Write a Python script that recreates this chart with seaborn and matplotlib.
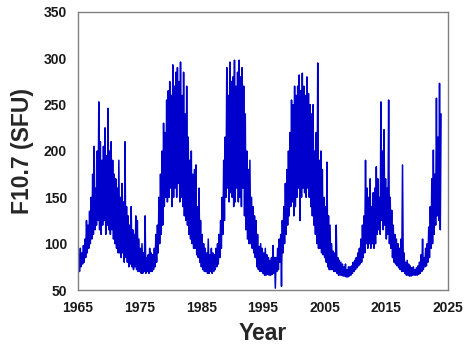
import numpy as np
import pandas as pd
import matplotlib
matplotlib.use("Agg")
import matplotlib.pyplot as plt
import seaborn as sns

# F10.7 solar radio flux (SFU): 8 samples per year
# (alternating low / high within each quarter), starting 1965.0
start_year = 1965.0
samples_per_year = 8
flux = [
    72, 88, 70, 95, 75, 90, 78, 98,          # 1965
    80, 105, 85, 125, 90, 120, 95, 135,      # 1966
    100, 150, 105, 175, 110, 205, 115, 160,  # 1967
    120, 200, 125, 253, 115, 210, 110, 190,  # 1968
    120, 205, 125, 225, 110, 195, 120, 246,  # 1969
    115, 200, 110, 210, 115, 190, 105, 175,  # 1970
    100, 170, 95, 160, 90, 190, 90, 150,     # 1971
    85, 165, 90, 145, 80, 210, 85, 140,      # 1972
    80, 130, 75, 120, 78, 140, 75, 115,      # 1973
    72, 110, 75, 130, 72, 125, 70, 105,      # 1974
    70, 95, 68, 100, 68, 90, 70, 130,        # 1975
    68, 85, 70, 88, 68, 95, 70, 90,          # 1976
    70, 88, 72, 95, 75, 110, 80, 120,        # 1977
    90, 150, 100, 175, 110, 200, 120, 230,   # 1978
    140, 220, 150, 255, 145, 265, 150, 275,  # 1979
    160, 260, 140, 293, 150, 270, 160, 285,  # 1980
    150, 290, 165, 275, 145, 296, 150, 260,  # 1981
    140, 285, 130, 240, 125, 270, 120, 215,  # 1982
    110, 190, 105, 200, 100, 175, 95, 180,   # 1983
    95, 185, 88, 140, 85, 160, 80, 125,      # 1984
    75, 110, 72, 100, 70, 95, 70, 90,        # 1985
    68, 105, 68, 88, 70, 95, 68, 90,         # 1986
    70, 88, 72, 95, 75, 100, 78, 110,        # 1987
    85, 125, 95, 150, 110, 190, 125, 215,    # 1988
    150, 290, 160, 260, 145, 296, 155, 275,  # 1989
    150, 280, 140, 298, 145, 270, 160, 285,  # 1990
    145, 298, 150, 280, 140, 290, 160, 270,  # 1991
    130, 240, 115, 200, 105, 180, 100, 190,  # 1992
    100, 150, 95, 140, 90, 130, 85, 125,     # 1993
    75, 110, 72, 97, 70, 100, 70, 95,        # 1994
    68, 90, 66, 95, 66, 88, 67, 85,          # 1995
    66, 82, 66, 85, 67, 98, 68, 85,          # 1996
    52, 85, 70, 95, 72, 105, 80, 110,        # 1997
    54, 125, 90, 140, 100, 165, 110, 180,    # 1998
    120, 200, 130, 220, 140, 255, 145, 250,  # 1999
    130, 270, 140, 260, 150, 270, 160, 282,  # 2000
    125, 265, 150, 284, 160, 270, 155, 260,  # 2001
    150, 280, 160, 262, 150, 250, 140, 240,  # 2002
    130, 250, 120, 200, 110, 220, 100, 295,  # 2003
    95, 190, 95, 200, 90, 180, 88, 150,      # 2004
    85, 140, 80, 188, 75, 130, 72, 120,      # 2005
    72, 100, 72, 92, 70, 90, 70, 120,        # 2006
    68, 85, 66, 82, 66, 80, 66, 78,          # 2007
    65, 75, 65, 78, 64, 72, 64, 75,          # 2008
    65, 75, 66, 76, 68, 80, 70, 82,          # 2009
    72, 85, 74, 90, 76, 95, 78, 105,         # 2010
    80, 120, 85, 130, 90, 190, 100, 160,     # 2011
    95, 150, 100, 170, 95, 140, 100, 155,    # 2012
    95, 160, 100, 183, 110, 170, 115, 150,   # 2013
    110, 253, 125, 200, 115, 223, 120, 170,  # 2014
    105, 160, 110, 255, 100, 150, 95, 136,   # 2015
    85, 120, 80, 110, 78, 105, 76, 100,      # 2016
    74, 95, 72, 105, 70, 185, 70, 90,        # 2017
    68, 80, 66, 82, 66, 78, 65, 76,          # 2018
    65, 74, 66, 75, 66, 72, 66, 74,          # 2019
    66, 76, 67, 80, 68, 88, 70, 105,         # 2020
    72, 85, 75, 95, 76, 100, 80, 118,        # 2021
    85, 140, 95, 170, 100, 201, 110, 175,    # 2022
    120, 257, 130, 215, 125, 273, 115, 240,  # 2023
]
x_ticks = [1965, 1975, 1985, 1995, 2005, 2015, 2025]
y_ticks = [50, 100, 150, 200, 250, 300, 350]

years = start_year + np.arange(len(flux)) / samples_per_year
df = pd.DataFrame({"Year": years, "F10.7": flux})

sns.set_style("white")
plt.rcParams["font.family"] = ["Liberation Sans", "DejaVu Sans"]

fig = plt.figure(figsize=(4.68, 3.46), dpi=100)
ax = fig.add_axes([78 / 468, 1 - 290 / 346, 370 / 468, 278 / 346])

sns.lineplot(data=df, x="Year", y="F10.7", ax=ax, color="#0000CD",
             linewidth=1.1, estimator=None)

ax.set_xlim(1965, 2025)
ax.set_ylim(50, 350)
ax.set_xticks(x_ticks)
ax.set_yticks(y_ticks)
ax.set_xticklabels([str(t) for t in x_ticks], fontsize=10, fontweight="bold")
ax.set_yticklabels([str(t) for t in y_ticks], fontsize=10, fontweight="bold")
ax.tick_params(axis="both", length=0, pad=8, colors="#1a1a1a")
ax.set_xlabel("Year", fontsize=16.5, fontweight="bold", labelpad=5)
ax.set_ylabel("F10.7 (SFU)", fontsize=16.5, fontweight="bold", labelpad=7)
for s in ax.spines.values():
    s.set_visible(True)
    s.set_color("#808080")
    s.set_linewidth(1.0)

fig.savefig("out.png", dpi=100)
